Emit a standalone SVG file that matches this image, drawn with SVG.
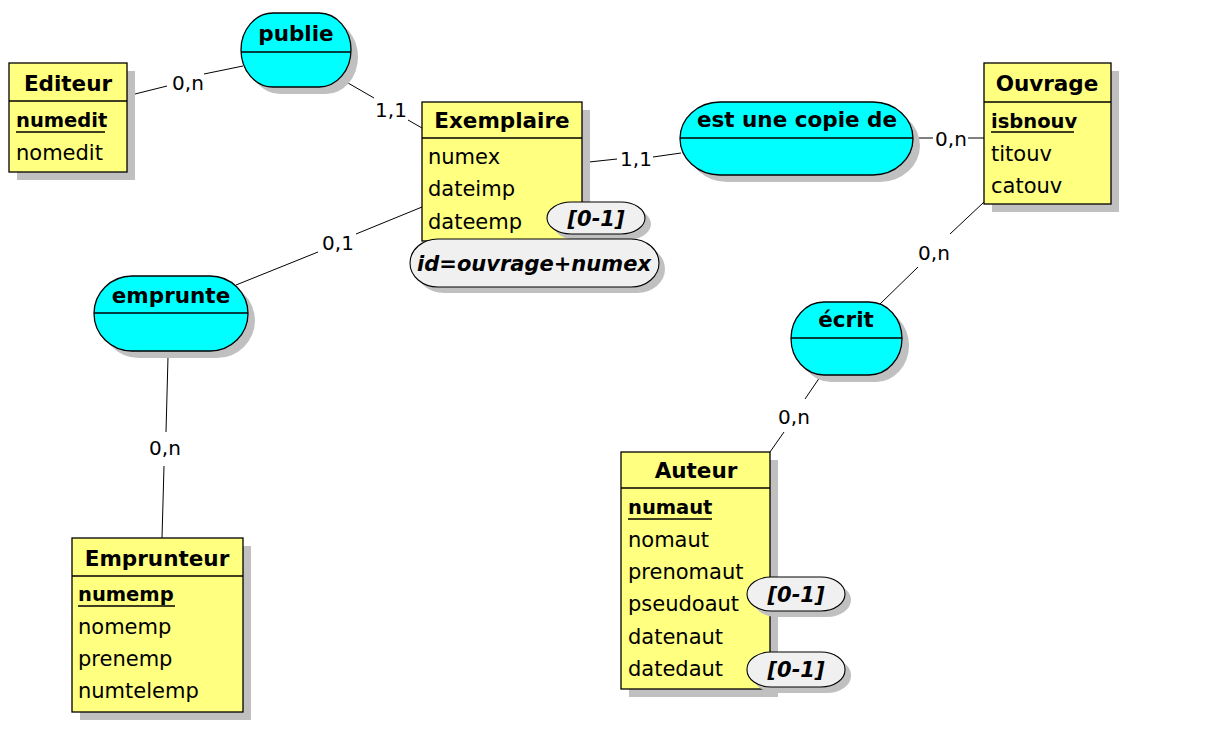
<svg xmlns="http://www.w3.org/2000/svg" width="1210" height="743" viewBox="0 0 1210 743">
<style>
.ent{fill:#ffff80;stroke:#000;stroke-width:1.3}
.rel{fill:#00ffff;stroke:#000;stroke-width:1.3}
.pill{fill:#f0f0f0;stroke:#000;stroke-width:1.1}
.sh{fill:#c0c0c0}
.sep{stroke:#000;stroke-width:1.3}
.ln{stroke:#000;stroke-width:1;fill:none}
.t{font-family:"DejaVu Sans",Verdana,sans-serif;font-size:21px;fill:#000}
.b{font-weight:bold;font-size:21.5px}
.k{font-weight:bold;font-size:19.5px}
.c{text-anchor:middle}
.card{font-family:"DejaVu Sans",Verdana,sans-serif;font-size:20px;fill:#000;text-anchor:middle}
.bi{font-family:"DejaVu Sans",Verdana,sans-serif;font-size:21px;font-weight:bold;font-style:italic;fill:#000;text-anchor:middle}
.u{stroke:#000;stroke-width:1.3}
</style>
<rect width="1210" height="743" fill="#fff"/>

<g id="connectors">
  <line class="ln" x1="135" y1="94" x2="167" y2="86"/>
  <line class="ln" x1="204" y1="74" x2="243" y2="66"/>
  <text class="card" x="188" y="90">0,n</text>
  <line class="ln" x1="348" y1="83" x2="374" y2="98"/>
  <line class="ln" x1="408" y1="120" x2="422" y2="128"/>
  <text class="card" x="391" y="117">1,1</text>
  <line class="ln" x1="589" y1="162" x2="617" y2="159"/>
  <line class="ln" x1="653" y1="157" x2="681" y2="153"/>
  <text class="card" x="636" y="166">1,1</text>
  <line class="ln" x1="913" y1="138" x2="933" y2="138"/>
  <line class="ln" x1="968" y1="138" x2="984" y2="138"/>
  <text class="card" x="951" y="146">0,n</text>
  <line class="ln" x1="984" y1="202" x2="950" y2="234"/>
  <line class="ln" x1="918" y1="267" x2="880" y2="304"/>
  <text class="card" x="934" y="260">0,n</text>
  <line class="ln" x1="820" y1="377" x2="805" y2="399"/>
  <line class="ln" x1="784" y1="432" x2="770" y2="452"/>
  <text class="card" x="794" y="424">0,n</text>
  <line class="ln" x1="422" y1="207" x2="356" y2="234"/>
  <line class="ln" x1="318" y1="252" x2="236" y2="285"/>
  <text class="card" x="338" y="250">0,1</text>
  <line class="ln" x1="168" y1="357" x2="166" y2="432"/>
  <line class="ln" x1="164" y1="466" x2="162" y2="538"/>
  <text class="card" x="165" y="455">0,n</text>
</g>

<g id="Editeur">
  <rect class="sh" x="17" y="71" width="118" height="109"/>
  <rect class="ent" x="9" y="63" width="118" height="109"/>
  <line class="sep" x1="9" y1="101" x2="127" y2="101"/>
  <text class="t b c" x="68" y="91">Editeur</text>
  <text class="t k" x="16" y="127">numedit</text>
  <line class="u" x1="16" y1="132" x2="105" y2="132"/>
  <text class="t" x="16" y="160">nomedit</text>
</g>

<g id="publie">
  <rect class="sh" x="248" y="20" width="110" height="74" rx="32" ry="37"/>
  <rect class="rel" x="241" y="13" width="110" height="74" rx="32" ry="37"/>
  <line class="sep" x1="241" y1="52" x2="351" y2="52"/>
  <text class="t b c" x="296" y="41">publie</text>
</g>

<g id="Exemplaire">
  <rect class="sh" x="430" y="110" width="160" height="139"/>
  <rect class="ent" x="422" y="102" width="160" height="139"/>
  <line class="sep" x1="422" y1="138" x2="582" y2="138"/>
  <text class="t b c" x="502" y="128">Exemplaire</text>
  <text class="t" x="428" y="164">numex</text>
  <text class="t" x="428" y="196">dateimp</text>
  <text class="t" x="428" y="229">dateemp</text>
  <rect class="sh" x="553" y="208" width="98" height="32" rx="24" ry="16"/>
  <rect class="pill" x="547" y="202" width="98" height="32" rx="24" ry="16"/>
  <text class="bi" x="596" y="226">[0-1]</text>
  <rect class="sh" x="416" y="245" width="249" height="48" rx="28" ry="24"/>
  <rect class="pill" x="410" y="239" width="249" height="48" rx="28" ry="24"/>
  <text class="bi" x="534" y="271">id=ouvrage+numex</text>
</g>

<g id="est_une_copie_de">
  <rect class="sh" x="687" y="109" width="233" height="73" rx="40" ry="36.5"/>
  <rect class="rel" x="680" y="102" width="233" height="73" rx="40" ry="36.5"/>
  <line class="sep" x1="680" y1="138" x2="913" y2="138"/>
  <text class="t b c" x="797" y="127">est une copie de</text>
</g>

<g id="Ouvrage">
  <rect class="sh" x="992" y="71" width="127" height="141"/>
  <rect class="ent" x="984" y="63" width="127" height="141"/>
  <line class="sep" x1="984" y1="102" x2="1111" y2="102"/>
  <text class="t b c" x="1047" y="91">Ouvrage</text>
  <text class="t k" x="991" y="128">isbnouv</text>
  <line class="u" x1="991" y1="132" x2="1074" y2="132"/>
  <text class="t" x="991" y="161">titouv</text>
  <text class="t" x="991" y="193">catouv</text>
</g>

<g id="ecrit">
  <rect class="sh" x="798" y="309" width="111" height="73" rx="33" ry="36.5"/>
  <rect class="rel" x="791" y="302" width="111" height="73" rx="33" ry="36.5"/>
  <line class="sep" x1="791" y1="338" x2="902" y2="338"/>
  <text class="t b c" x="846" y="327">écrit</text>
</g>

<g id="Auteur">
  <rect class="sh" x="629" y="460" width="149" height="237"/>
  <rect class="ent" x="621" y="452" width="149" height="237"/>
  <line class="sep" x1="621" y1="488" x2="770" y2="488"/>
  <text class="t b c" x="696" y="478">Auteur</text>
  <text class="t k" x="628" y="514">numaut</text>
  <line class="u" x1="628" y1="519" x2="712" y2="519"/>
  <text class="t" x="628" y="547">nomaut</text>
  <text class="t" x="628" y="579">prenomaut</text>
  <text class="t" x="628" y="611">pseudoaut</text>
  <text class="t" x="628" y="644">datenaut</text>
  <text class="t" x="628" y="676">datedaut</text>
  <rect class="sh" x="753" y="583" width="98" height="34" rx="24" ry="17"/>
  <rect class="pill" x="747" y="577" width="98" height="34" rx="24" ry="17"/>
  <text class="bi" x="796" y="602">[0-1]</text>
  <rect class="sh" x="753" y="658" width="98" height="35" rx="24" ry="17"/>
  <rect class="pill" x="747" y="652" width="98" height="35" rx="24" ry="17"/>
  <text class="bi" x="796" y="677">[0-1]</text>
</g>

<g id="emprunte">
  <rect class="sh" x="101" y="283" width="154" height="75" rx="38" ry="37.5"/>
  <rect class="rel" x="94" y="276" width="154" height="75" rx="38" ry="37.5"/>
  <line class="sep" x1="94" y1="313" x2="248" y2="313"/>
  <text class="t b c" x="171" y="303">emprunte</text>
</g>

<g id="Emprunteur">
  <rect class="sh" x="80" y="546" width="171" height="174"/>
  <rect class="ent" x="72" y="538" width="171" height="174"/>
  <line class="sep" x1="72" y1="576" x2="243" y2="576"/>
  <text class="t b c" x="157" y="566">Emprunteur</text>
  <text class="t k" x="78" y="601">numemp</text>
  <line class="u" x1="78" y1="606" x2="175" y2="606"/>
  <text class="t" x="78" y="634">nomemp</text>
  <text class="t" x="78" y="666">prenemp</text>
  <text class="t" x="78" y="698">numtelemp</text>
</g>
</svg>
